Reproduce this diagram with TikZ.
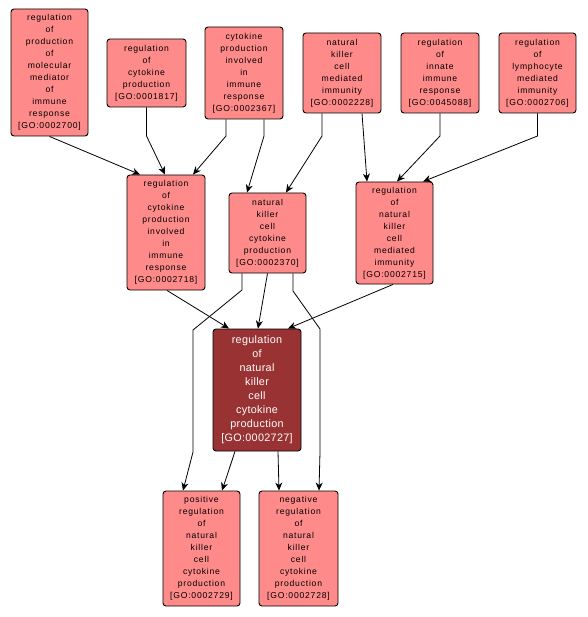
\documentclass[tikz,border=0pt]{standalone}
\usepackage{fontspec}
\setmainfont{Liberation Sans}
\newfontfamily\boxfont[LetterSpace=9]{Liberation Sans}
\newfontfamily\mainboxfont[LetterSpace=3]{Liberation Sans}
\usetikzlibrary{arrows.meta}
\definecolor{pinkfill}{RGB}{255,138,138}
\definecolor{darkfill}{RGB}{153,51,51}
\tikzset{
  gobox/.style={draw=black, line width=0.9pt, fill=pinkfill, rounded corners=3pt,
    align=center, inner sep=0pt, font=\boxfont\fontsize{8.6}{12}\selectfont, text=black},
  mainbox/.style={draw=black, line width=0.9pt, fill=darkfill, rounded corners=3pt,
    align=center, inner sep=0pt, font=\mainboxfont\fontsize{10.8}{14}\selectfont, text=white},
  edge/.style={draw=black, line width=0.8pt, -{Stealth[length=8pt,width=7pt,inset=2.5pt]}},
}
\begin{document}
\begin{tikzpicture}[x=1pt,y=-1pt]
\useasboundingbox (0,0) rectangle (587,617);
\fill[white] (0,0) rectangle (587,617);
% top row
\node[gobox, minimum width=77pt, minimum height=127pt] (A) at (49.5,72.5)
  {regulation\\of\\production\\of\\molecular\\mediator\\of\\immune\\response\\{[GO:0002700]}};
\node[gobox, minimum width=79pt, minimum height=68pt] (B) at (146.5,73)
  {regulation\\of\\cytokine\\production\\{[GO:0001817]}};
\node[gobox, minimum width=78pt, minimum height=92pt] (C) at (244,73)
  {cytokine\\production\\involved\\in\\immune\\response\\{[GO:0002367]}};
\node[gobox, minimum width=78pt, minimum height=80pt] (D) at (342,73)
  {natural\\killer\\cell\\mediated\\immunity\\{[GO:0002228]}};
\node[gobox, minimum width=78pt, minimum height=80pt] (E) at (440,73)
  {regulation\\of\\innate\\immune\\response\\{[GO:0045088]}};
\node[gobox, minimum width=77pt, minimum height=80pt] (F) at (537.5,73)
  {regulation\\of\\lymphocyte\\mediated\\immunity\\{[GO:0002706]}};
% middle row
\node[gobox, minimum width=78pt, minimum height=115pt] (G) at (166,232.5)
  {regulation\\of\\cytokine\\production\\involved\\in\\immune\\response\\{[GO:0002718]}};
\node[gobox, minimum width=77pt, minimum height=80pt] (H) at (267.5,233)
  {natural\\killer\\cell\\cytokine\\production\\{[GO:0002370]}};
\node[gobox, minimum width=77pt, minimum height=102pt] (I) at (394.5,233)
  {regulation\\of\\natural\\killer\\cell\\mediated\\immunity\\{[GO:0002715]}};
% center
\node[mainbox, minimum width=88pt, minimum height=122pt] (J) at (257,390)
  {regulation\\of\\natural\\killer\\cell\\cytokine\\production\\{[GO:0002727]}};
% bottom
\node[gobox, minimum width=77pt, minimum height=115pt] (K) at (201.5,548.5)
  {positive\\regulation\\of\\natural\\killer\\cell\\cytokine\\production\\{[GO:0002729]}};
\node[gobox, minimum width=79pt, minimum height=115pt] (L) at (298.5,548.5)
  {negative\\regulation\\of\\natural\\killer\\cell\\cytokine\\production\\{[GO:0002728]}};
% edges
\draw[edge] (A.south) -- ([xshift=-26pt]G.north);
\draw[edge] (B.south) -- (146.5,136) -- ([xshift=-1pt]G.north);
\draw[edge] ([xshift=-18pt]C.south) -- (226,136) -- ([xshift=27pt]G.north);
\draw[edge] ([xshift=20pt]C.south) -- (264,136) -- ([xshift=-20.5pt]H.north);
\draw[edge] ([xshift=-20pt]D.south) -- (322,136) -- ([xshift=18.5pt]H.north);
\draw[edge] ([xshift=20pt]D.south) -- ([xshift=-27.5pt]I.north);
\draw[edge] (E.south) -- (440,136) -- ([xshift=2.5pt]I.north);
\draw[edge] (F.south) -- (537.5,136) -- ([xshift=28.5pt]I.north);
\draw[edge] ([xshift=1pt]G.south) -- ([xshift=-28pt]J.north);
\draw[edge] (H.south) -- ([xshift=1pt]J.north);
\draw[edge] ([xshift=-1.5pt]I.south) -- ([xshift=31pt]J.north);
\draw[edge] ([xshift=-25.5pt]H.south) -- (242,290) -- (193,330) -- (193,452) -- ([xshift=-18.5pt]K.north);
\draw[edge] ([xshift=25.5pt]H.south) -- (293,291) -- (320,329) -- (320,452) -- ([xshift=20.5pt]L.north);
\draw[edge] ([xshift=-22pt]J.south) -- ([xshift=20.5pt]K.north);
\draw[edge] ([xshift=21pt]J.south) -- ([xshift=-19.5pt]L.north);
\end{tikzpicture}
\end{document}
